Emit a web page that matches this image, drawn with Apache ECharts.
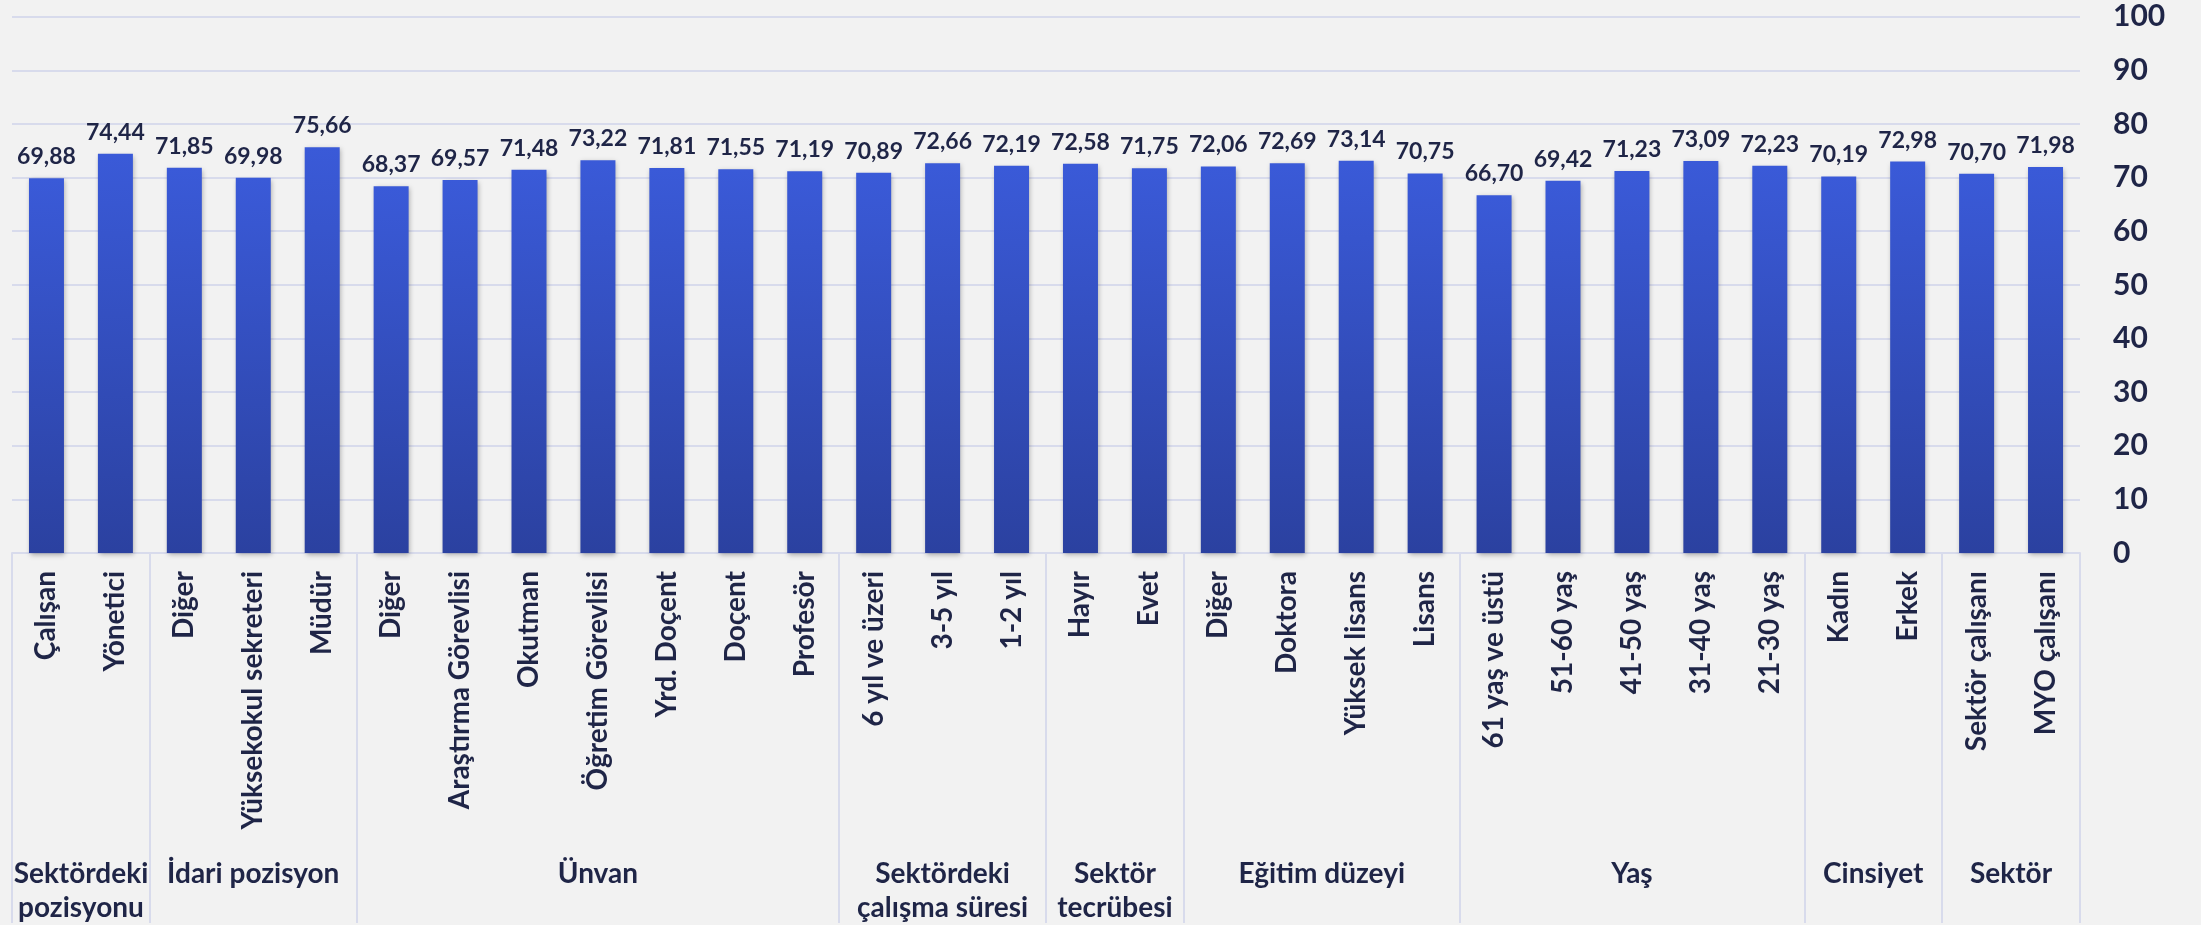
<!DOCTYPE html>
<html><head><meta charset="utf-8">
<script src="https://cdn.jsdelivr.net/npm/echarts@6/dist/echarts.min.js"></script>
<style>html,body{margin:0;padding:0;background:#f2f2f2}#c{width:2201px;height:925px}</style>
</head><body><div id="c"></div>
<script>
const categories = ['Çalışan','Yönetici','Diğer','Yüksekokul sekreteri','Müdür','Diğer','Araştırma Görevlisi','Okutman','Öğretim Görevlisi','Yrd. Doçent','Doçent','Profesör','6 yıl ve üzeri','3-5 yıl','1-2 yıl','Hayır','Evet','Diğer','Doktora','Yüksek lisans','Lisans','61 yaş ve üstü','51-60 yaş','41-50 yaş','31-40 yaş','21-30 yaş','Kadın','Erkek','Sektör çalışanı','MYO çalışanı'];
const values = [69.88,74.44,71.85,69.98,75.66,68.37,69.57,71.48,73.22,71.81,71.55,71.19,70.89,72.66,72.19,72.58,71.75,72.06,72.69,73.14,70.75,66.70,69.42,71.23,73.09,72.23,70.19,72.98,70.70,71.98];
const groupNames = ['Sektördeki\npozisyonu','İdari pozisyon','Ünvan','Sektördeki\nçalışma süresi','Sektör\ntecrübesi','Eğitim düzeyi','Yaş','Cinsiyet','Sektör'];
const groupSizes = [2,3,7,3,2,4,5,2,2];
const yMin = 0, yMax = 100, yStep = 10;

const boundaries = [0];
const centers = [];
groupSizes.forEach(n => { const s = boundaries[boundaries.length-1]; centers.push(s + n/2); boundaries.push(s + n); });
const nCat = categories.length;

const FONT = 'Lato';
const TXT = '#1f2547';
const LINE = '#d8dbec';

const chart = echarts.init(document.getElementById('c'), null, {renderer:'canvas'});
chart.setOption({
  backgroundColor: '#f2f2f2',
  animation: false,
  textStyle: {fontFamily: FONT},
  grid: {left: 12, right: 121, top: 16.7, bottom: 368.3, containLabel: false},
  xAxis: [{
    type: 'category', data: categories, gridIndex: 0, position: 'bottom',
    axisLine: {show: true, lineStyle: {color: LINE, width: 2}},
    axisTick: {show: false},
    axisLabel: {interval: 0, rotate: 90, margin: 18, fontSize: 28, fontWeight: 'bold', color: TXT, fontFamily: FONT}
  }, {
    type: 'value', min: 0, max: nCat, gridIndex: 0, position: 'bottom',
    axisLine: {show: false},
    splitLine: {show: false},
    axisTick: {show: true, customValues: boundaries, length: 370, inside: false, lineStyle: {color: LINE, width: 2}},
    axisLabel: {
      show: true, customValues: centers, margin: 304, fontSize: 28, fontWeight: 'bold', color: TXT, fontFamily: FONT,
      lineHeight: 34, verticalAlign: 'top', align: 'center',
      formatter: v => { const i = centers.findIndex(c => Math.abs(c - v) < 1e-6); return i >= 0 ? groupNames[i] : ''; }
    }
  }],
  yAxis: {
    type: 'value', position: 'right', min: yMin, max: yMax, interval: yStep,
    axisLine: {show: false}, axisTick: {show: false},
    splitLine: {show: true, lineStyle: {color: LINE, width: 2}},
    axisLabel: {margin: 33, fontSize: 30, fontWeight: 'bold', color: TXT, fontFamily: FONT, align: 'left'}
  },
  series: [{
    type: 'bar', data: values, xAxisIndex: 0, barWidth: 35,
    itemStyle: {
      color: new echarts.graphic.LinearGradient(0,0,0,1,[{offset:0,color:'#3a5ad8'},{offset:1,color:'#2b41a0'}]),
      shadowColor: 'rgba(0,0,0,0.3)', shadowBlur: 5, shadowOffsetX: 1, shadowOffsetY: 2
    },
    label: {show: true, position: 'top', distance: 10, fontSize: 23, fontWeight: 'bold', color: TXT, fontFamily: FONT,
      formatter: p => p.value.toFixed(2).replace('.', ',')}
  }]
});
</script></body></html>
